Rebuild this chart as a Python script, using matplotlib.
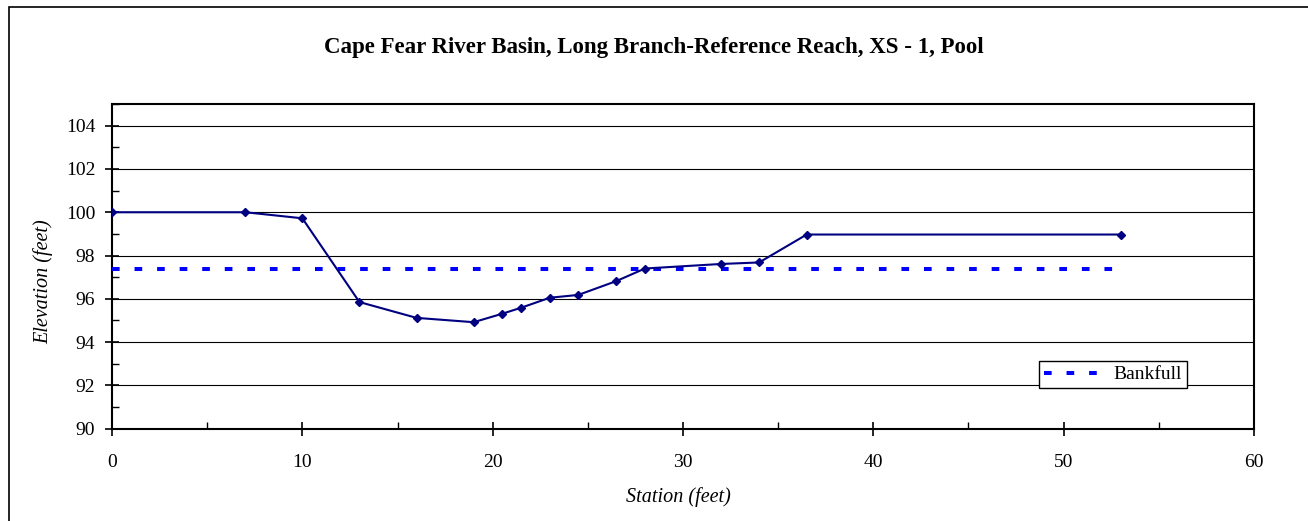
import matplotlib
matplotlib.use("Agg")
import matplotlib.pyplot as plt
from matplotlib.patches import Rectangle
from matplotlib.ticker import MultipleLocator

station = [0, 7, 10, 13, 16, 19, 20.5, 21.5, 23, 24.5, 26.5, 28, 32, 34, 36.5, 53]
elevation = [100.0, 100.0, 99.72, 95.85, 95.12, 94.92, 95.31, 95.59, 96.05, 96.18,
             96.82, 97.40, 97.61, 97.68, 98.97, 98.97]
bankfull_x = [0, 53]
bankfull_y = [97.36, 97.36]

title = "Cape Fear River Basin, Long Branch-Reference Reach, XS - 1, Pool"
xlabel = "Station (feet)"
ylabel = "Elevation (feet)"

plt.rcParams['font.family'] = ['Liberation Serif', 'DejaVu Serif']

W, H = 1308, 521
fig = plt.figure(figsize=(W / 100, H / 100), dpi=100)
fig.patch.set_facecolor('white')

# outer chart border (left/top visible)
fig.patches.append(Rectangle((9 / W, -0.05), 1.1, 1 - 7 / H + 0.05, transform=fig.transFigure,
                             fill=False, edgecolor='black', linewidth=1.2, clip_on=False))

ax = fig.add_axes([112 / W, 1 - 428.7 / H, (1254 - 112) / W, (428.7 - 104) / H])

ax.plot(station, elevation, color='#000080', linewidth=1.5, marker='D', markersize=4.5,
        markerfacecolor='#000080', markeredgecolor='#000080', zorder=4)
ax.plot(bankfull_x, bankfull_y, color='#0000FF', linewidth=2.9, linestyle=(0, (1.9, 3.7)),
        dash_capstyle='butt', label='Bankfull', zorder=3)

ax.set_xlim(0, 60)
ax.set_ylim(90, 105)
ax.xaxis.set_major_locator(MultipleLocator(10))
ax.xaxis.set_minor_locator(MultipleLocator(5))
ax.yaxis.set_major_locator(MultipleLocator(2))
ax.yaxis.set_minor_locator(MultipleLocator(1))

ax.grid(True, which='major', axis='y', color='black', linewidth=0.8)
ax.set_axisbelow(True)

for s in ax.spines.values():
    s.set_linewidth(1.5)
    s.set_color('black')

ax.tick_params(axis='both', which='major', direction='inout', length=10, width=1.2,
               labelsize=14)
ax.tick_params(axis='x', which='major', pad=13)
ax.tick_params(axis='y', which='major', pad=7)
ax.tick_params(axis='both', which='minor', direction='in', length=5, width=1)

fig.text(654 / W, 1 - 47 / H, title, ha='center', va='center', fontsize=16.5, fontweight='bold')

ax.set_xlabel(xlabel, fontsize=14.5, fontstyle='italic')
ax.set_ylabel(ylabel, fontsize=14.5, fontstyle='italic')
ax.xaxis.set_label_coords((678 - 112) / 1142, (428.7 - 497) / 324.7)
ax.yaxis.set_label_coords((43.5 - 112) / 1142, (428.7 - 282) / 324.7)
ax.xaxis.label.set_va('center')
ax.yaxis.label.set_va('center')

leg = ax.legend(loc='upper left', bbox_to_anchor=((1039 - 112) / 1142, (428.7 - 361) / 324.7),
                borderaxespad=0, fancybox=False, framealpha=1, edgecolor='black',
                fontsize=14, handlelength=2.8, handletextpad=0.8, borderpad=0.25)
leg.get_frame().set_linewidth(1.0)

fig.savefig('out.png', dpi=100, facecolor='white')
